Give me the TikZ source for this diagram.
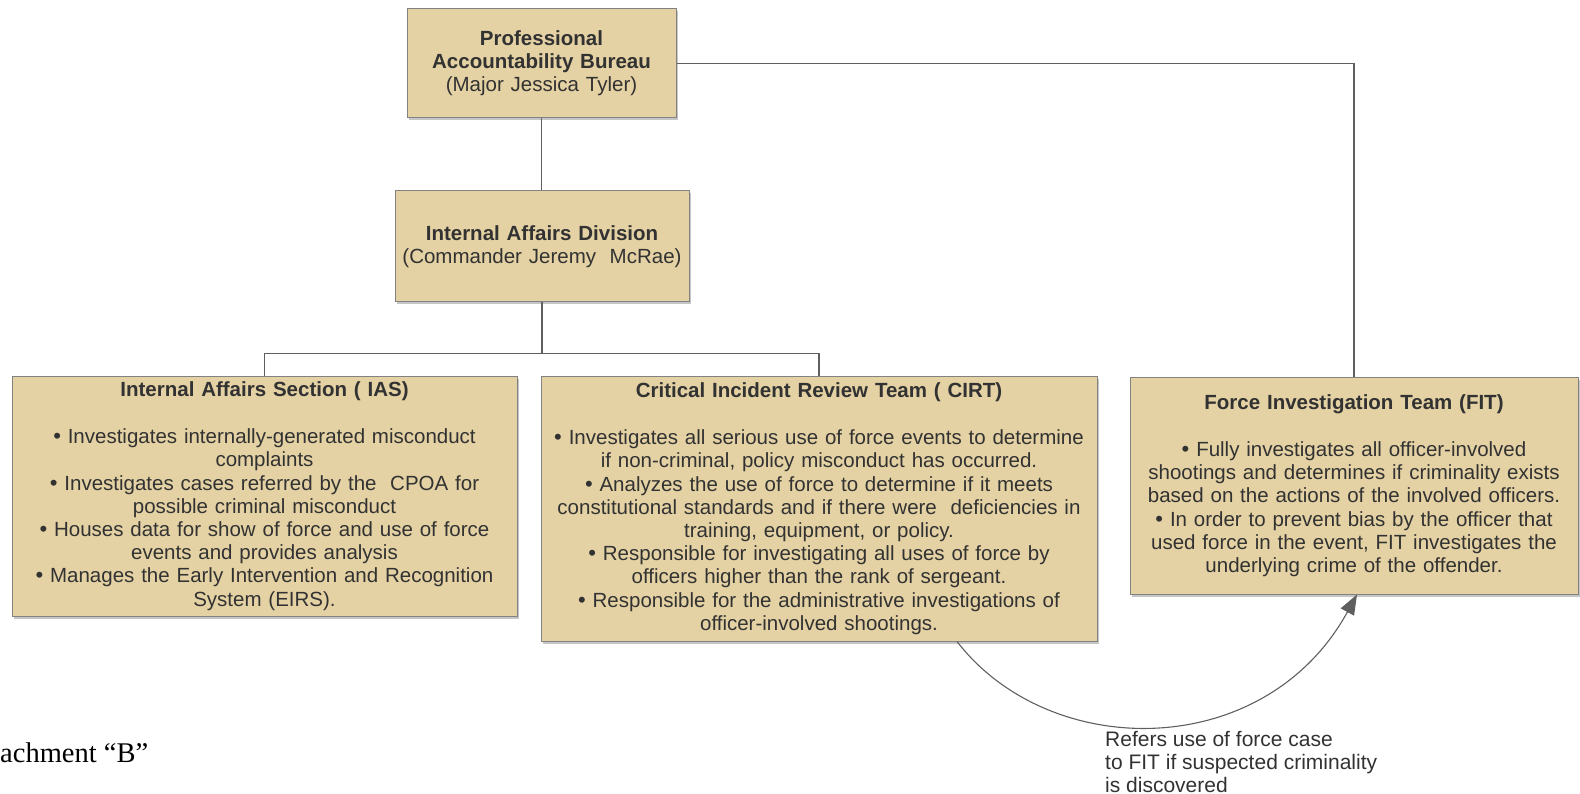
\documentclass[tikz,border=0pt]{standalone}
\usepackage{fontspec}
\setmainfont{Liberation Sans}
\newfontfamily\timesft{Liberation Serif}
\usetikzlibrary{shadows,arrows.meta}
\definecolor{boxfill}{RGB}{228,210,164}
\definecolor{boxline}{RGB}{130,130,130}
\definecolor{txt}{RGB}{50,50,50}
\definecolor{conn}{RGB}{95,95,95}
\newcommand\bul{{\fontsize{22}{23.2}\selectfont\textbullet}\ }
\begin{document}
\begin{tikzpicture}[x=1pt,y=-1pt,
  orgbox/.style={draw=boxline, line width=1pt, fill=boxfill, inner sep=0pt,
    align=center, text=txt, font=\fontsize{20.5}{23.2}\selectfont,
    drop shadow={shadow xshift=2pt, shadow yshift=-2.5pt, fill=black!45}},
  link/.style={draw=conn, line width=1.2pt},
  note/.style={text=txt, align=left, inner sep=0pt, font=\fontsize{21}{23.2}\selectfont}]
\useasboundingbox (0,0) rectangle (1580,794);

\node[orgbox, minimum width=269pt, minimum height=109pt, text width=262pt] (pab) at (541.5,63.5)
  {\textbf{Professional}\\\textbf{Accountability Bureau}\\(Major Jessica Tyler)};

\node[orgbox, minimum width=294pt, minimum height=111pt, text width=288pt] (iad) at (542,246.5)
  {\textbf{Internal Affairs Division}\\(Commander Jeremy\ \ McRae)};

\node[orgbox, minimum width=505pt, minimum height=240pt, text width=500pt] (ias) at (264.5,496)
  {\textbf{Internal Affairs Section ( IAS)}\\[24pt]
   \bul Investigates internally-generated misconduct\\
   complaints\\
   \bul Investigates cases referred by the\ \ CPOA for\\
   possible criminal misconduct\\
   \bul Houses data for show of force and use of force\\
   events and provides analysis\\
   \bul Manages the Early Intervention and Recognition\\
   System (EIRS).};

\node[orgbox, minimum width=556pt, minimum height=265pt, text width=552pt] (cirt) at (819,508.5)
  {\textbf{Critical Incident Review Team ( CIRT)}\\[24pt]
   \bul Investigates all serious use of force events to determine\\
   if non-criminal, policy misconduct has occurred.\\
   \bul Analyzes the use of force to determine if it meets\\
   constitutional standards and if there were\ \ deficiencies in\\
   training, equipment, or policy.\\
   \bul Responsible for investigating all uses of force by\\
   officers higher than the rank of sergeant.\\
   \bul Responsible for the administrative investigations of\\
   officer-involved shootings.};

\node[orgbox, minimum width=448pt, minimum height=217pt, text width=444pt] (fit) at (1354,485.5)
  {\textbf{Force Investigation Team (FIT)}\\[24pt]
   \bul Fully investigates all officer-involved\\
   shootings and determines if criminality exists\\
   based on the actions of the involved officers.\\
   \bul In order to prevent bias by the officer that\\
   used force in the event, FIT investigates the\\
   underlying crime of the offender.};

\draw[link] (pab.south) -- (pab.south |- iad.north);
\draw[link] (iad.south) -- ++(0,51) coordinate (bar) -| (ias.north);
\draw[link] (bar) -| (cirt.north);
\draw[link] (pab.east) -| (fit.north);

\draw[draw=conn, line width=1.1pt, -{Triangle[length=20pt,width=15pt]}]
  ([xshift=138pt]cirt.south) .. controls (1050,762) and (1265,762) .. ([xshift=3pt]fit.south);

\node[note, anchor=west] (lbl) at (1105,762)
  {Refers use of force case\\to FIT if suspected criminality\\is discovered};

\node[anchor=base west, inner sep=0pt, font=\timesft\fontsize{28.5}{30}\selectfont] (att) at (0,762) {achment “B”};
\end{tikzpicture}
\end{document}
